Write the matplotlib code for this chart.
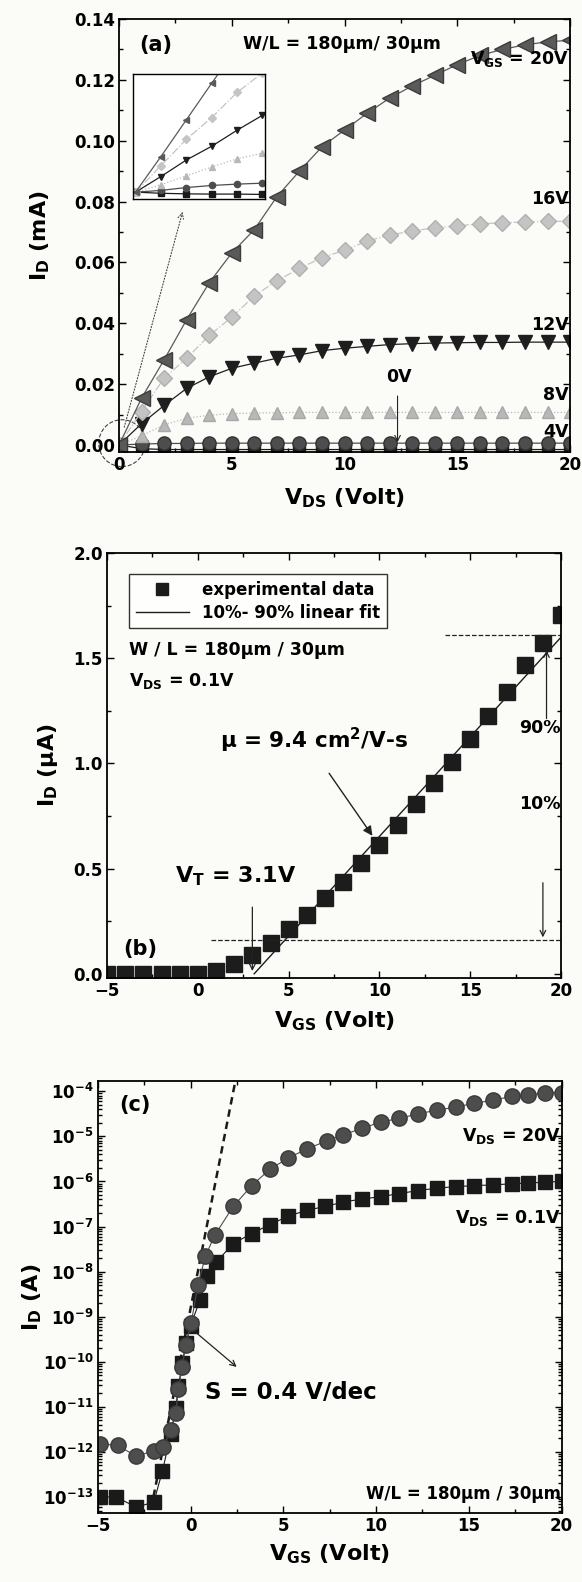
import matplotlib
matplotlib.use('Agg')
import matplotlib.pyplot as plt
from matplotlib.patches import Ellipse
from matplotlib.ticker import MultipleLocator, LogLocator, NullFormatter

plt.rcParams['font.family'] = ['DejaVu Sans']
plt.rcParams['font.weight'] = 'bold'
plt.rcParams['axes.labelweight'] = 'bold'
plt.rcParams['mathtext.fontset'] = 'dejavusans'
plt.rcParams['mathtext.default'] = 'bf'

# ---- (a) output curves, I_D (mA) vs V_DS ----
vds = list(range(21))
id_vgs20 = [0, 0.0154, 0.028, 0.0412, 0.0533, 0.0631, 0.0708, 0.0816, 0.090, 0.098, 0.1035,
            0.109, 0.114, 0.118, 0.1215, 0.125, 0.128, 0.130, 0.1315, 0.1325, 0.133]
id_vgs16 = [0, 0.011, 0.022, 0.0285, 0.036, 0.042, 0.049, 0.054, 0.058, 0.0616, 0.064,
            0.067, 0.069, 0.0703, 0.0714, 0.072, 0.0727, 0.073, 0.0733, 0.0735, 0.0735]
id_vgs12 = [0, 0.007, 0.013, 0.0186, 0.0224, 0.0252, 0.0269, 0.0285, 0.0296, 0.031, 0.0318,
            0.0324, 0.033, 0.0333, 0.0335, 0.0336, 0.0337, 0.0337, 0.0338, 0.0338, 0.0338]
id_vgs8 = [0, 0.003, 0.0066, 0.0088, 0.0098, 0.0103, 0.0105, 0.0106, 0.0107, 0.0107, 0.0107,
           0.0107, 0.0107, 0.0107, 0.0107, 0.0107, 0.0107, 0.0107, 0.0107, 0.0107, 0.0107]
id_vgs4 = [0, 0.0003, 0.0005, 0.0005, 0.0006, 0.0006, 0.0006, 0.0006, 0.0006, 0.0006, 0.0006,
           0.0006, 0.0006, 0.0006, 0.0006, 0.0006, 0.0006, 0.0006, 0.0006, 0.0006, 0.0006]
id_vgs0 = [0, -0.0012, -0.0015, -0.0015, -0.0015, -0.0015, -0.0015, -0.0015, -0.0015, -0.0015, -0.0015,
           -0.0015, -0.0015, -0.0015, -0.0015, -0.0015, -0.0015, -0.0015, -0.0015, -0.0015, -0.0015]
vgs_labels = ['0V', '4V', '8V', '12V', '16V', 'V$_{GS}$ = 20V']

# inset (zoom near origin)
vds_in = [0, 0.2, 0.4, 0.6, 0.8, 1.0]
in_vgs20 = [0, 0.0031, 0.0063, 0.0095, 0.0126, 0.0155]
in_vgs16 = [0, 0.0023, 0.0046, 0.0065, 0.0087, 0.0104]
in_vgs12 = [0, 0.00136, 0.0028, 0.0040, 0.0054, 0.0067]
in_vgs8 = [0, 0.00064, 0.00142, 0.0022, 0.0029, 0.0034]
in_vgs4 = [0, 0.00015, 0.0004, 0.00058, 0.0007, 0.00078]
in_vgs0 = [0, -0.0001, -0.00015, -0.00017, -0.00017, -0.0002]

# ---- (b) transfer curve, linear, V_DS = 0.1 V ----
vgs_b = list(range(-5, 21))
id_b = [0.0, 0.0, 0.0, 0.0, 0.0, 0.0, 0.015, 0.048, 0.09, 0.148, 0.212, 0.279, 0.359, 0.438,
        0.526, 0.614, 0.709, 0.808, 0.908, 1.009, 1.116, 1.227, 1.339, 1.466, 1.573, 1.705]
fit_x = [3.1, 20]
fit_y = [0.0, 1.6]

# ---- (c) transfer curves, log scale ----
vgs_c = [-4.9, -3.93, -2.93, -1.98, -1.5, -1.06, -0.8, -0.65, -0.45, -0.25, 0.03, 0.4, 0.8, 1.3,
         2.3, 3.3, 4.26, 5.26, 6.27, 7.33, 8.24, 9.25, 10.25, 11.26, 12.26, 13.27, 14.28, 15.28,
         16.29, 17.3, 18.2, 19.1, 20]
id_c_20 = [1.5e-12, 1.4e-12, 8e-13, 1.06e-12, 1.26e-12, 3e-12, 7.2e-12, 2.5e-11, 7.8e-11, 2.4e-10,
           7.1e-10, 5.1e-9, 2.2e-8, 6.4e-8, 2.8e-7, 8.1e-7, 1.85e-6, 3.3e-6, 5.3e-6, 7.9e-6, 1.1e-5,
           1.5e-5, 2.1e-5, 2.5e-5, 3.2e-5, 3.8e-5, 4.5e-5, 5.4e-5, 6.4e-5, 7.7e-5, 8.4e-5, 9.2e-5, 9.4e-5]
vgs_c2 = [-4.9, -4.0, -2.93, -1.98, -1.52, -1.06, -0.8, -0.65, -0.45, -0.25, 0.0, 0.5, 0.9, 1.37,
          2.3, 3.3, 4.26, 5.26, 6.27, 7.27, 8.24, 9.25, 10.25, 11.26, 12.26, 13.27, 14.28, 15.28,
          16.29, 17.3, 18.2, 19.1, 20]
id_c_01 = [1e-13, 1e-13, 5.9e-14, 7.7e-14, 3.7e-13, 2.5e-12, 9.3e-12, 2.9e-11, 9.2e-11, 2.6e-10,
           6.3e-10, 2.3e-9, 7.9e-9, 1.6e-8, 4.2e-8, 7e-8, 1.1e-7, 1.7e-7, 2.3e-7, 2.8e-7, 3.5e-7,
           4.1e-7, 4.6e-7, 5.4e-7, 6.3e-7, 7.1e-7, 7.7e-7, 8.1e-7, 8.4e-7, 8.9e-7, 9.2e-7, 9.7e-7, 1.0e-6]
slope_x = [-2.0, 2.45]
slope_y = [1.0e-13, 2.0e-4]

fig = plt.figure(figsize=(5.82, 15.82), dpi=100)
fig.patch.set_facecolor('#fbfbf8')


def style(ax):
    ax.set_facecolor('none')
    ax.tick_params(which='both', direction='in', top=True, right=True, width=1.0,
                   labelsize=12, pad=3)
    ax.tick_params(which='major', length=5)
    ax.tick_params(which='minor', length=3)
    for s in ax.spines.values():
        s.set_linewidth(1.3)


# ================= panel (a) =================
axA = fig.add_axes([0.2045, 0.7143, 0.775, 0.2737])
style(axA)
axA.plot(vds, id_vgs0, 's-', color='#1a1a1a', ms=8, lw=0.9)
axA.plot(vds, id_vgs4, 'o-', color='#4d4d4d', mec='#333333', ms=9.5, lw=0.9)
axA.plot(vds, id_vgs8, '^:', color='#b8b8b8', mec='#a8a8a8', ms=9, lw=0.9)
axA.plot(vds, id_vgs12, 'v-', color='#1e1e1e', ms=10.5, lw=0.9)
axA.plot(vds, id_vgs16, 'D-.', color='#c4c4c4', mec='#b0b0b0', ms=8.5, lw=0.9)
axA.plot(vds, id_vgs20, '<-', color='#5a5a5a', mec='#3c3c3c', ms=11, lw=0.9)
axA.set_xlim(0, 20)
axA.set_ylim(-0.0023, 0.14)
axA.xaxis.set_major_locator(MultipleLocator(5))
axA.xaxis.set_minor_locator(MultipleLocator(2.5))
axA.yaxis.set_major_locator(MultipleLocator(0.02))
axA.yaxis.set_minor_locator(MultipleLocator(0.01))
axA.yaxis.set_major_formatter(plt.FormatStrFormatter('%.2f'))
axA.set_xlabel('V$_{DS}$ (Volt)', fontsize=16, labelpad=9)
axA.set_ylabel('I$_D$ (mA)', fontsize=16, labelpad=16)
axA.text(0.88, 0.1315, '(a)', fontsize=15, va='center')
axA.text(9.9, 0.1318, 'W/L = 180\u03bcm/ 30\u03bcm', fontsize=12.5, ha='center', va='center')
axA.text(19.95, 0.127, vgs_labels[5], fontsize=12.5, ha='right', va='center')
axA.text(19.95, 0.0807, vgs_labels[4], fontsize=12.5, ha='right', va='center')
axA.text(19.95, 0.0395, vgs_labels[3], fontsize=12.5, ha='right', va='center')
axA.text(19.95, 0.0165, vgs_labels[2], fontsize=12.5, ha='right', va='center')
axA.text(19.95, 0.0044, vgs_labels[1], fontsize=12.5, ha='right', va='center')
axA.text(12.4, 0.0225, vgs_labels[0], fontsize=12.5, ha='center', va='center')
axA.annotate('', xy=(12.35, 0.0), xytext=(12.35, 0.017),
             arrowprops=dict(arrowstyle='->', lw=0.8, color='#222222'))
axA.add_patch(Ellipse((0.13, 0.0006), 2.06, 0.0154, fill=False, ls='--', lw=0.8,
                      color='#444444', clip_on=False))
axA.annotate('', xy=(2.85, 0.0775), xytext=(0.2, 0.005),
             arrowprops=dict(arrowstyle='->', lw=0.8, ls=':', color='#444444'))

axI = fig.add_axes([0.2285, 0.8742, 0.2268, 0.079])
axI.set_facecolor('white')
axI.plot(vds_in, in_vgs0, 's-', color='#1a1a1a', ms=4, lw=0.9)
axI.plot(vds_in, in_vgs4, 'o-', color='#4d4d4d', ms=4.5, lw=0.9)
axI.plot(vds_in, in_vgs8, '^:', color='#b8b8b8', ms=4.5, lw=0.9)
axI.plot(vds_in, in_vgs12, 'v-', color='#1e1e1e', ms=5, lw=0.9)
axI.plot(vds_in, in_vgs16, 'D-.', color='#c4c4c4', ms=4, lw=0.9)
axI.plot(vds_in, in_vgs20, '<-', color='#5a5a5a', ms=5, lw=0.9)
axI.set_xlim(-0.02, 1.02)
axI.set_ylim(-0.0006, 0.0103)
axI.set_xticks([])
axI.set_yticks([])
for s in axI.spines.values():
    s.set_linewidth(1.0)

# ================= panel (b) =================
axB = fig.add_axes([0.184, 0.3818, 0.780, 0.2686])
style(axB)
axB.plot(vgs_b, id_b, 's', color='#1c1c1c', ms=11.5, label='experimental data')
axB.plot(fit_x, fit_y, '-', color='#1c1c1c', lw=1.0, label='10%- 90% linear fit')
axB.plot([13.6, 20], [1.61, 1.61], '--', color='#222222', lw=0.9)
axB.plot([0.7, 20], [0.16, 0.16], '--', color='#222222', lw=0.9)
axB.set_xlim(-5, 20)
axB.set_ylim(-0.02, 2.0)
axB.xaxis.set_major_locator(MultipleLocator(5))
axB.xaxis.set_minor_locator(MultipleLocator(2.5))
axB.yaxis.set_major_locator(MultipleLocator(0.5))
axB.yaxis.set_minor_locator(MultipleLocator(0.25))
axB.yaxis.set_major_formatter(plt.FormatStrFormatter('%.1f'))
axB.set_xlabel('V$_{GS}$ (Volt)', fontsize=16, labelpad=7)
axB.set_ylabel('I$_D$ (\u03bcA)', fontsize=16, labelpad=10)
leg = axB.legend(loc='upper left', fontsize=12, frameon=True, fancybox=False,
                 edgecolor='black', handlelength=3.2, borderpad=0.4, labelspacing=0.3,
                 markerscale=0.7, bbox_to_anchor=(0.03, 0.97))
leg.get_frame().set_linewidth(1.0)
axB.text(-3.8, 1.538, 'W / L = 180\u03bcm / 30\u03bcm', fontsize=12.5, va='center')
axB.text(-3.8, 1.394, 'V$_{DS}$ = 0.1V', fontsize=12.5, va='center')
axB.text(6.4, 1.108, '\u03bc = 9.4 cm$^2$/V-s', fontsize=15.5, ha='center', va='center')
axB.text(2.1, 0.462, 'V$_T$ = 3.1V', fontsize=16, ha='center', va='center')
axB.text(-4.1, 0.12, '(b)', fontsize=15, va='center')
axB.text(19.98, 1.17, '90%', fontsize=12.5, ha='right', va='center')
axB.text(19.98, 0.805, '10%', fontsize=12.5, ha='right', va='center')
axB.annotate('', xy=(3.0, 0.0), xytext=(3.0, 0.33),
             arrowprops=dict(arrowstyle='->', lw=0.9, color='#222222'))
axB.annotate('', xy=(9.7, 0.645), xytext=(7.14, 0.964),
             arrowprops=dict(arrowstyle='-|>', lw=1.0, color='#222222', mutation_scale=14))
axB.annotate('', xy=(19.2, 1.55), xytext=(19.2, 1.2),
             arrowprops=dict(arrowstyle='->', lw=0.9, color='#222222'))
axB.annotate('', xy=(19.0, 0.16), xytext=(19.0, 0.446),
             arrowprops=dict(arrowstyle='->', lw=0.9, color='#222222'))

# ================= panel (c) =================
axC = fig.add_axes([0.168, 0.0436, 0.797, 0.2731])
style(axC)
axC.set_yscale('log')
axC.plot(slope_x, slope_y, '--', color='#1a1a1a', lw=1.8, dashes=(3, 2))
axC.plot(vgs_c2, id_c_01, 's-', color='#1a1a1a', ms=10.5, lw=0.8)
axC.plot(vgs_c, id_c_20, 'o-', color='#4d4d4d', mec='#3a3a3a', ms=11, lw=0.8)
axC.set_xlim(-5, 20)
axC.set_ylim(4.4e-14, 1.7e-4)
axC.xaxis.set_major_locator(MultipleLocator(5))
axC.xaxis.set_minor_locator(MultipleLocator(2.5))
axC.yaxis.set_major_locator(LogLocator(base=10, numticks=20))
axC.yaxis.set_minor_locator(LogLocator(base=10, subs=[2, 3, 4, 5, 6, 7, 8, 9], numticks=20))
axC.yaxis.set_minor_formatter(NullFormatter())
axC.set_xlabel('V$_{GS}$ (Volt)', fontsize=16, labelpad=5)
axC.set_ylabel('I$_D$ (A)', fontsize=16, labelpad=-1)
axC.text(-3.85, 5e-5, '(c)', fontsize=15, va='center')
axC.text(19.95, 1.0e-5, 'V$_{DS}$ = 20V', fontsize=12.5, ha='right', va='center')
axC.text(19.95, 1.55e-7, 'V$_{DS}$ = 0.1V', fontsize=12.5, ha='right', va='center')
axC.text(19.95, 1.15e-13, 'W/L = 180\u03bcm / 30\u03bcm', fontsize=12, ha='right', va='center')
axC.text(5.4, 2.1e-11, 'S = 0.4 V/dec', fontsize=16.5, ha='center', va='center')
axC.annotate('', xy=(2.6, 7e-11), xytext=(0.1, 5.2e-10),
             arrowprops=dict(arrowstyle='->', lw=0.9, color='#222222'))

fig.savefig('out.png', dpi=100, facecolor=fig.get_facecolor())
